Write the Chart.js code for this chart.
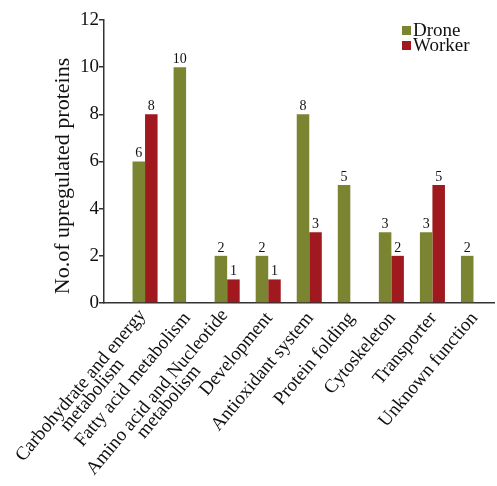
<!DOCTYPE html>
<html>
<head>
<meta charset="utf-8">
<script src="https://cdn.jsdelivr.net/npm/chart.js@4.4.1/dist/chart.umd.min.js"></script>
<style>
  html, body { margin: 0; padding: 0; background: #fff; }
  #wrap { width: 497px; height: 486px; }
</style>
</head>
<body>
<div id="wrap"><canvas id="c" width="497" height="486"></canvas></div>
<script>
// Functional categories of upregulated proteins
const categories = [
  ['Carbohydrate and energy', 'metabolism'],
  ['Fatty acid metabolism'],
  ['Amino acid and Nucleotide', 'metabolism'],
  ['Development'],
  ['Antioxidant system'],
  ['Protein folding'],
  ['Cytoskeleton'],
  ['Transporter'],
  ['Unknown function']
];
const droneCounts  = [6, 10, 2, 2, 8, 5, 3, 3, 2];
const workerCounts = [8, 0, 1, 1, 3, 0, 2, 5, 0];
const yTicks = [0, 2, 4, 6, 8, 10, 12];
const yTitle = 'No.of upregulated proteins';

const DRONE_COLOR = '#7b8431';
const WORKER_COLOR = '#a0191e';
const SERIF = '"Liberation Serif", "Times New Roman", serif';

const toPoints = arr => arr.map((v, i) => ({ x: i + 1, y: v }));

// Value labels above each non-zero bar
const valueLabels = {
  id: 'valueLabels',
  afterDatasetsDraw(chart) {
    const ctx = chart.ctx;
    ctx.save();
    ctx.font = '14px ' + SERIF;
    ctx.fillStyle = '#111';
    ctx.textAlign = 'center';
    ctx.textBaseline = 'bottom';
    chart.data.datasets.forEach((ds, di) => {
      const meta = chart.getDatasetMeta(di);
      meta.data.forEach((bar, i) => {
        const v = ds.data[i].y;
        if (!v) return;
        ctx.fillText(String(v), bar.x, bar.y - 1);
      });
    });
    ctx.restore();
  }
};

// Rotated category names under the x axis, lines centred on each other
const categoryLabels = {
  id: 'categoryLabels',
  afterDraw(chart) {
    const ctx = chart.ctx;
    const xs = chart.scales.x;
    const angle = -50 * Math.PI / 180;
    const lh = 15;
    ctx.save();
    ctx.font = '19px ' + SERIF;
    ctx.fillStyle = '#111';
    ctx.textBaseline = 'middle';
    ctx.textAlign = 'center';
    categories.forEach((lines, i) => {
      const px = xs.getPixelForValue(i + 1) + 1;
      const py = xs.top + 12;
      const widths = lines.map(t => ctx.measureText(t).width);
      const maxW = Math.max(...widths);
      const shiftY = lines.length > 1 ? -(lines.length - 1) * lh / 2 + 3 : 0;
      ctx.save();
      ctx.translate(px, py);
      ctx.rotate(angle);
      lines.forEach((t, j) => {
        ctx.fillText(t, -maxW / 2, shiftY + j * lh);
      });
      ctx.restore();
    });
    ctx.restore();
  }
};

// Vertical axis title
const axisTitle = {
  id: 'axisTitle',
  afterDraw(chart) {
    const ctx = chart.ctx;
    ctx.save();
    ctx.font = '22px ' + SERIF;
    ctx.fillStyle = '#111';
    ctx.textAlign = 'center';
    ctx.textBaseline = 'middle';
    ctx.translate(63, 176);
    ctx.rotate(-Math.PI / 2);
    ctx.fillText(yTitle, 0, 0);
    ctx.restore();
  }
};

// Compact legend in the upper right corner
const cornerLegend = {
  id: 'cornerLegend',
  afterDraw(chart) {
    const ctx = chart.ctx;
    ctx.save();
    ctx.font = '19px ' + SERIF;
    ctx.textBaseline = 'middle';
    ctx.textAlign = 'left';
    chart.data.datasets.forEach((ds, i) => {
      const y = 31 + i * 15;
      ctx.fillStyle = ds.backgroundColor;
      ctx.fillRect(402, y - 5, 9, 9);
      ctx.fillStyle = '#111';
      ctx.fillText(ds.label, 413, y);
    });
    ctx.restore();
  }
};

new Chart(document.getElementById('c'), {
  type: 'bar',
  data: {
    datasets: [
      { label: 'Drone', data: toPoints(droneCounts), backgroundColor: DRONE_COLOR,
        categoryPercentage: 0.61, barPercentage: 1.0 },
      { label: 'Worker', data: toPoints(workerCounts), backgroundColor: WORKER_COLOR,
        categoryPercentage: 0.61, barPercentage: 1.0 }
    ]
  },
  options: {
    responsive: false,
    animation: false,
    layout: { padding: { top: 20, right: 3, left: 0, bottom: 0 } },
    plugins: { legend: { display: false }, tooltip: { enabled: false } },
    scales: {
      x: {
        type: 'linear',
        offset: false,
        min: 0,
        max: 9.5,
        grid: { display: false },
        border: { display: true, color: '#333', width: 1.5 },
        ticks: { display: false, stepSize: 1, includeBounds: false },
        afterFit(scale) { scale.height = 183; }
      },
      y: {
        min: 0,
        max: 12,
        afterBuildTicks(scale) { scale.ticks = yTicks.map(v => ({ value: v })); },
        grid: { drawOnChartArea: false, drawTicks: true, tickLength: 5, color: '#333', lineWidth: 1.5 },
        border: { display: true, color: '#333', width: 1.5 },
        ticks: { font: { family: SERIF, size: 19 }, color: '#111', padding: 0 },
        title: { display: false },
        afterFit(scale) { scale.width = 104; }
      }
    }
  },
  plugins: [valueLabels, categoryLabels, axisTitle, cornerLegend]
});
</script>
</body>
</html>
